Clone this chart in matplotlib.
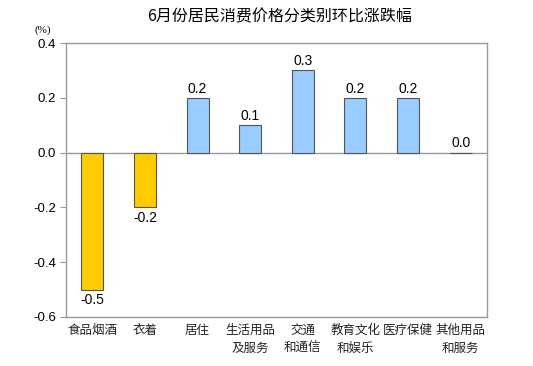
import matplotlib.pyplot as plt

plt.rcParams['font.family'] = ['Liberation Sans', 'Noto Sans CJK SC', 'DejaVu Sans']

# données
categories = ['食品烟酒', '衣着', '居住', '生活用品\n及服务', '交通\n和通信', '教育文化\n和娱乐', '医疗保健', '其他用品\n和服务']
values = [-0.5, -0.2, 0.2, 0.1, 0.3, 0.2, 0.2, 0.0]
yticks = [-0.6, -0.4, -0.2, 0.0, 0.2, 0.4]

colors = ['#FFCC00' if v < 0 else '#99CCFF' for v in values]

fig = plt.figure(figsize=(5.33, 3.66), dpi=100)
ax = fig.add_axes([0.1238, 0.1339, 0.7899, 0.7486])

x = list(range(len(categories)))
ax.bar(x, values, width=0.42, color=colors, edgecolor='#555555', linewidth=0.8, zorder=3)

for i, v in enumerate(values):
    if v < 0:
        ax.text(i, v - 0.012, f'{v:.1f}', ha='center', va='top', fontsize=10)
    else:
        ax.text(i, v + 0.008, f'{v:.1f}', ha='center', va='bottom', fontsize=10)

ax.axhline(0, color='#999999', linewidth=1, zorder=2)
ax.set_xlim(-0.5, len(categories) - 0.5)
ax.set_ylim(-0.6, 0.4)
ax.set_yticks(yticks)
ax.set_yticklabels([f'{t:.1f}' for t in yticks], fontsize=9.5)
ax.set_xticks(x)
ax.set_xticklabels(categories, fontsize=9, family=['Noto Sans CJK SC'], color='#222222', linespacing=1.5)
ax.tick_params(axis='x', length=0, pad=5)
ax.tick_params(axis='y', length=4, color='#999999', pad=3)
for s in ax.spines.values():
    s.set_color('#999999')
    s.set_linewidth(1)

fig.text(0.065, 0.905, '(%)', fontsize=8, family=['Liberation Serif'], ha='left', va='bottom')
fig.text(0.525, 0.955, '6月份居民消费价格分类别环比涨跌幅', fontsize=11.5, family=['Noto Sans CJK SC'], ha='center', va='center')

fig.savefig('out.png', dpi=100)
